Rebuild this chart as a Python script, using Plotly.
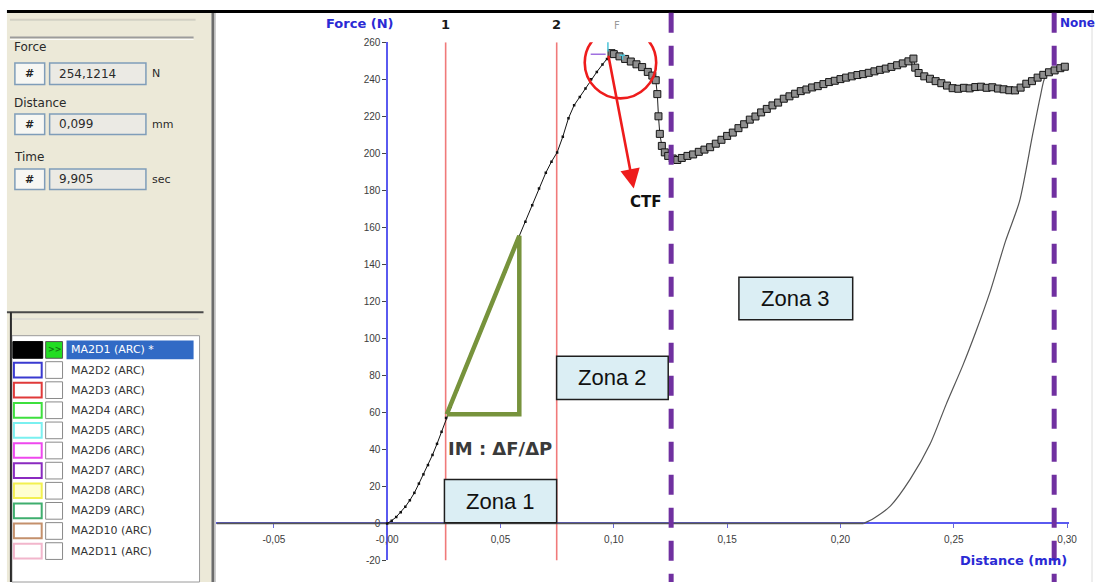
import plotly.graph_objects as go

W, H = 1102, 588

# ---------------- measured curve (texture analyser, probe test) ----------------
ascent_dist = [0.000, 0.002, 0.004, 0.006, 0.008, 0.010, 0.012, 0.014, 0.016, 0.018,
               0.020, 0.022, 0.024, 0.026, 0.028, 0.031, 0.034, 0.037, 0.040, 0.043,
               0.046, 0.049, 0.052, 0.055, 0.058, 0.061, 0.064, 0.067, 0.070, 0.0725,
               0.075, 0.0775, 0.080, 0.0825, 0.085, 0.0875, 0.090, 0.0925, 0.095, 0.097]
ascent_force = [0.0, 1.5, 3.5, 6.0, 9.0, 12.5, 16.5, 21.5, 26.5, 31.5,
                37.0, 43.0, 49.5, 57.0, 63.0, 72.5, 82.0, 91.5, 100.0, 109.5,
                118.0, 127.5, 136.0, 145.5, 154.5, 163.0, 172.0, 181.0, 189.5, 195.5,
                200.5, 209.0, 219.0, 226.0, 230.5, 235.0, 240.0, 244.0, 248.0, 251.0]

peak_force = 254.1214   # N
peak_dist = 0.099       # mm
peak_time = 9.905       # s

postpeak_dist = [0.1000, 0.1025, 0.1050, 0.1075, 0.1100, 0.1125, 0.1150, 0.1170, 0.1185, 0.1192,
                 0.1197, 0.1203, 0.1212, 0.1225, 0.1240, 0.1260, 0.1280, 0.1300, 0.1325, 0.1350,
                 0.1375, 0.1400, 0.1425, 0.1450, 0.1475, 0.1500, 0.1525, 0.1550, 0.1575, 0.1600,
                 0.1625, 0.1650, 0.1675, 0.1700, 0.1725, 0.1750, 0.1775, 0.1800, 0.1825, 0.1850,
                 0.1875, 0.1900, 0.1925, 0.1950, 0.1975, 0.2000, 0.2025, 0.2050, 0.2075, 0.2100,
                 0.2125, 0.2150, 0.2175, 0.2200, 0.2225, 0.2250, 0.2275, 0.2300, 0.2322, 0.2330,
                 0.2345, 0.2370, 0.2395, 0.2420, 0.2445, 0.2470, 0.2495, 0.2520, 0.2545, 0.2570,
                 0.2595, 0.2620, 0.2645, 0.2670, 0.2695, 0.2720, 0.2745, 0.2770, 0.2795, 0.2820,
                 0.2845, 0.2870, 0.2895, 0.2920, 0.2945, 0.2970, 0.2990]
postpeak_force = [253.6, 252.4, 251.0, 249.6, 248.1, 246.6, 244.0, 242.0, 239.5, 232.0,
                  220.0, 210.5, 204.0, 200.5, 198.6, 197.2, 196.4, 197.5, 198.6, 199.4,
                  200.8, 202.0, 203.3, 205.2, 207.3, 209.4, 211.2, 213.6, 215.7, 218.2,
                  219.9, 222.1, 224.0, 225.9, 227.4, 229.5, 230.8, 232.2, 233.6, 234.5,
                  235.6, 236.3, 237.4, 238.5, 239.2, 240.1, 240.9, 241.6, 242.3, 242.8,
                  243.5, 244.3, 245.1, 245.8, 246.7, 247.6, 248.6, 249.7, 251.2, 246.3,
                  243.4, 241.6, 240.3, 239.0, 237.9, 236.6, 235.2, 234.9, 235.4, 235.1,
                  235.8, 236.0, 235.4, 235.7, 235.0, 234.6, 234.1, 234.0, 235.5, 237.6,
                  239.0, 240.9, 242.4, 243.8, 244.8, 246.0, 246.8]

retract_dist = [0.2943, 0.2904, 0.2882, 0.2847, 0.2790, 0.2729, 0.2659, 0.2597, 0.2540,
                0.2466, 0.2396, 0.2308, 0.2221, 0.2146, 0.2102]
retract_force = [244.6, 241.4, 230.8, 209.5, 174.0, 152.8, 124.7, 103.4, 85.4,
                 64.2, 43.0, 23.9, 9.5, 2.7, 0.0]
baseline_dist = [0.2102, -0.0753]
baseline_force = [0.0, 0.0]

# cursors, zone limits and the initial-modulus triangle
cursor_dist = [0.0258, 0.0748]
cursor_labels = ["1", "2"]
zone_limits = [0.1253, 0.2943]
im_dist = [0.0263, 0.0583]
im_force = [59.0, 155.4]

x_tickvals = [-0.05, 0.0, 0.05, 0.10, 0.15, 0.20, 0.25, 0.30]
x_ticktext = ["-0,05", "-0,00", "0,05", "0,10", "0,15", "0,20", "0,25", "0,30"]
y_tickvals = list(range(-20, 261, 20))
y_ticktext = [str(v) for v in y_tickvals]

series_names = ["MA2D1 (ARC) *", "MA2D2 (ARC)", "MA2D3 (ARC)", "MA2D4 (ARC)", "MA2D5 (ARC)",
                "MA2D6 (ARC)", "MA2D7 (ARC)", "MA2D8 (ARC)", "MA2D9 (ARC)", "MA2D10 (ARC)",
                "MA2D11 (ARC)"]
series_colors = ["#000000", "#3a3ad0", "#e03a3a", "#3ee03e", "#7af0f0", "#ee48ee",
                 "#8a2ac0", "#f2f050", "#3fae6e", "#c4906c", "#f2b6cc"]

# ---------------- helpers (pixel -> paper) ----------------
def px(x):
    return x / W


def py(y):
    return 1 - y / H


shapes = []
annotations = []


def prect(x0, y0, x1, y1, fill, line="rgba(0,0,0,0)", lw=1):
    shapes.append(dict(type="rect", xref="paper", yref="paper",
                       x0=px(x0), x1=px(x1), y0=py(y1), y1=py(y0),
                       fillcolor=fill, line=dict(color=line, width=lw), layer="above"))


def pline(x0, y0, x1, y1, color, lw=1):
    shapes.append(dict(type="line", xref="paper", yref="paper",
                       x0=px(x0), x1=px(x1), y0=py(y0), y1=py(y1),
                       line=dict(color=color, width=lw), layer="above"))


def ptext(x, y, text, size=11, color="#222", family="DejaVu Sans", xanchor="left", bold=False):
    if bold:
        text = "<b>" + text + "</b>"
    annotations.append(dict(x=px(x), y=py(y), xref="paper", yref="paper", text=text,
                            showarrow=False, xanchor=xanchor, yanchor="middle",
                            font=dict(size=size, color=color, family=family)))


# ---------------- left control panel ----------------
prect(7, 8, 213, 588, "#ece9d8")
pline(214.5, 8, 214.5, 588, "#6c6c6c", 3)
pline(217, 8, 217, 588, "#c9c9c9", 1)
pline(10, 15, 197, 15, "#d2d0c4", 2)
pline(10, 33, 195, 33, "#9c9c9c", 2)
pline(10, 35, 195, 35, "#ffffff", 1)

fields = [("Force", f"{peak_force:.4f}".replace(".", ","), "N", 43, 59, 81),
          ("Distance", f"{peak_dist:.3f}".replace(".", ","), "mm", 100, 111, 132),
          ("Time", f"{peak_time:.3f}".replace(".", ","), "sec", 155, 167, 188)]
for label, value, unit, ly, y0, y1 in fields:
    ptext(12, ly, label, size=12, color="#2a2a2a")
    prect(15, y0, 45, y1, "#f7f7f3", "#7f9db9", 1.5)
    ptext(30, (y0 + y1) / 2, "#", size=11, color="#222", xanchor="center", bold=True)
    prect(50, y0, 147, y1, "#ebeae4", "#7f9db9", 1.5)
    ptext(57, (y0 + y1) / 2, value, size=12, color="#2a2a2a")
    ptext(151, (y0 + y1) / 2, unit, size=11, color="#2a2a2a")

pline(7, 313, 205, 313, "#4a4a4a", 2)
pline(10, 320, 200, 320, "#d0d0d0", 1)
prect(12, 337, 201, 588, "#ffffff", "#9a9a9a", 1)
pline(11, 313, 11, 588, "#2a2a2a", 2)

for k, (name, col) in enumerate(zip(series_names, series_colors)):
    top = 342 + 20.5 * k
    if k == 0:
        prect(13, top + 1, 43, top + 18, col, "#000000", 1)
        prect(46, top + 1, 63, top + 18, "#22dd22", "#555", 1)
        ptext(54.5, top + 9.5, ">>", size=8, color="#117711", xanchor="center", bold=True)
        prect(67, top, 195, top + 19, "#316ac5")
        ptext(70, top + 9.5, name, size=11, color="#ffffff")
    else:
        fill = "#ffffd0" if k == 7 else "#ffffff"
        prect(14, top + 2, 42, top + 17, fill, col, 2)
        prect(46, top + 1, 63, top + 18, "#ffffff", "#8a8a8a", 1)
        ptext(70, top + 9.5, name, size=11, color="#333333")

# top frame line and right edge
pline(7, 6.5, 1102, 6.5, "#000000", 3)
pline(1100, 8, 1100, 588, "#dcdcdc", 1)

# ---------------- chart markers / annotations (data coordinates) ----------------
for xd, lab in zip(cursor_dist, cursor_labels):
    shapes.append(dict(type="line", xref="x", yref="y", x0=xd, x1=xd, y0=-20, y1=260,
                       line=dict(color="#f07a7a", width=1.6), layer="below"))
    annotations.append(dict(x=xd, y=py(20), xref="x", yref="paper", text="<b>" + lab + "</b>",
                            showarrow=False, xanchor="center", yanchor="middle",
                            font=dict(size=13, color="#1a1a1a", family="DejaVu Sans")))

for xd in zone_limits:
    shapes.append(dict(type="line", xref="x", yref="paper", x0=xd, x1=xd, y0=py(8), y1=0,
                       line=dict(color="#7030a0", width=5, dash="20px,13px"), layer="above"))

# red circle around the maximum force and the arrow to the CTF label
shapes.append(dict(type="circle", xref="x", yref="y", x0=(589 - 390) / 2283, x1=(661 - 390) / 2283,
                   y0=229.7, y1=268.1, line=dict(color="#ee1c1c", width=2.6), layer="above"))
annotations.append(dict(x=0.1088, y=181.0, ax=0.0975, ay=253.5, xref="x", yref="y",
                        axref="x", ayref="y", text="", showarrow=True, arrowhead=2,
                        arrowsize=1.5, arrowwidth=2.6, arrowcolor="#ee1c1c"))
annotations.append(dict(x=0.1143, y=173.5, xref="x", yref="y", text="<b>CTF</b>",
                        showarrow=False, xanchor="center", yanchor="middle",
                        font=dict(size=15, color="#111", family="DejaVu Sans")))

# peak cursor cross
for x0, x1, y0, y1, c in [(0.0974, 0.0974, 255.0, 265.0, "#4cc4d8"),
                          (0.0950, 0.1007, 261.5, 261.5, "#4cc4d8"),
                          (0.0898, 0.0964, 253.6, 253.6, "#a070e0"),
                          (0.1025, 0.1050, 253.0, 253.0, "#4cc4d8"),
                          (0.1038, 0.1038, 250.5, 253.0, "#4cc4d8")]:
    shapes.append(dict(type="line", xref="x", yref="y", x0=x0, x1=x1, y0=y0, y1=y1,
                       line=dict(color=c, width=1.5), layer="above"))
annotations.append(dict(x=px(622), y=py(13), xref="paper", yref="paper", text="F",
                        showarrow=False, font=dict(size=10, color="#9a9a9a",
                                                   family="DejaVu Sans")))

annotations.append(dict(x=im_dist[0] - 0.0002, y=40.3, xref="x", yref="y",
                        text="<b>IM : ΔF/ΔP</b>", showarrow=False, xanchor="left",
                        yanchor="middle", font=dict(size=18, color="#3a3a3a",
                                                    family="DejaVu Sans")))

zone_boxes = [("Zona 1", 0.02527, 0.07477, 0.4, 23.7),
              ("Zona 2", 0.07477, 0.12400, 67.0, 90.3),
              ("Zona 3", 0.15520, 0.20540, 110.0, 133.0)]
for text, x0, x1, y0, y1 in zone_boxes:
    shapes.append(dict(type="rect", xref="x", yref="y", x0=x0, x1=x1, y0=y0, y1=y1,
                       fillcolor="#dbeef4", line=dict(color="#1e1e1e", width=1.5),
                       layer="above"))
    annotations.append(dict(x=(x0 + x1) / 2, y=(y0 + y1) / 2, xref="x", yref="y", text=text,
                            showarrow=False, xanchor="center", yanchor="middle",
                            font=dict(size=22, color="#111", family="Liberation Sans")))

# axis titles
ptext(363, 19, "Force (N)", size=13, color="#2a2ad4", xanchor="center", bold=True)
ptext(1085, 18, "None", size=12, color="#2a2ad4", xanchor="center", bold=True)
ptext(1021, 566, "Distance (mm)", size=13, color="#2a2ad4", xanchor="center", bold=True)

# ---------------- traces ----------------
fig = go.Figure()
fig.add_trace(go.Scatter(x=baseline_dist, y=baseline_force, mode="lines",
                         line=dict(color="#555555", width=1.6)))
fig.add_trace(go.Scatter(x=retract_dist, y=retract_force, mode="lines",
                         line=dict(color="#555555", width=1.2, shape="spline", smoothing=0.7)))
fig.add_trace(go.Scatter(x=ascent_dist + [peak_dist], y=ascent_force + [peak_force],
                         mode="lines+markers", line=dict(color="#111111", width=1),
                         marker=dict(symbol="square", size=2.5, color="#111111")))
fig.add_trace(go.Scatter(x=[peak_dist] + postpeak_dist, y=[peak_force] + postpeak_force,
                         mode="lines+markers", line=dict(color="#222222", width=1),
                         marker=dict(symbol="square", size=7, color="#8f8f8f",
                                     line=dict(color="#151515", width=1))))
fig.add_trace(go.Scatter(x=[im_dist[0], im_dist[1], im_dist[1], im_dist[0]],
                         y=[im_force[0], im_force[1], im_force[0], im_force[0]],
                         mode="lines", line=dict(color="#77933c", width=4.5)))

fig.update_layout(
    width=W, height=H, margin=dict(l=0, r=0, t=0, b=0),
    paper_bgcolor="#ffffff", plot_bgcolor="#ffffff",
    showlegend=False, hovermode=False,
    shapes=shapes, annotations=annotations,
    xaxis=dict(domain=[218 / W, 1077 / W], range=[-0.07534, 0.30092],
               anchor="free", position=py(528.3), layer="below traces",
               showgrid=False, zeroline=False, showline=True, linecolor="#5a5af0", linewidth=1.5,
               ticks="outside", ticklen=4, tickcolor="#6a6ad8", ticklabelstandoff=3,
               tickvals=x_tickvals, ticktext=x_ticktext,
               tickfont=dict(size=10, color="#3c3c3c", family="Liberation Sans")),
    yaxis=dict(domain=[py(566), py(38)], range=[-20, 260],
               anchor="free", position=px(390), layer="below traces",
               showgrid=False, zeroline=False, showline=True, linecolor="#5a5af0", linewidth=1.5,
               ticks="outside", ticklen=4, tickcolor="#444444",
               tickvals=y_tickvals, ticktext=y_ticktext,
               tickfont=dict(size=10, color="#3c3c3c", family="Liberation Sans")),
)

fig.write_html("out.html")
